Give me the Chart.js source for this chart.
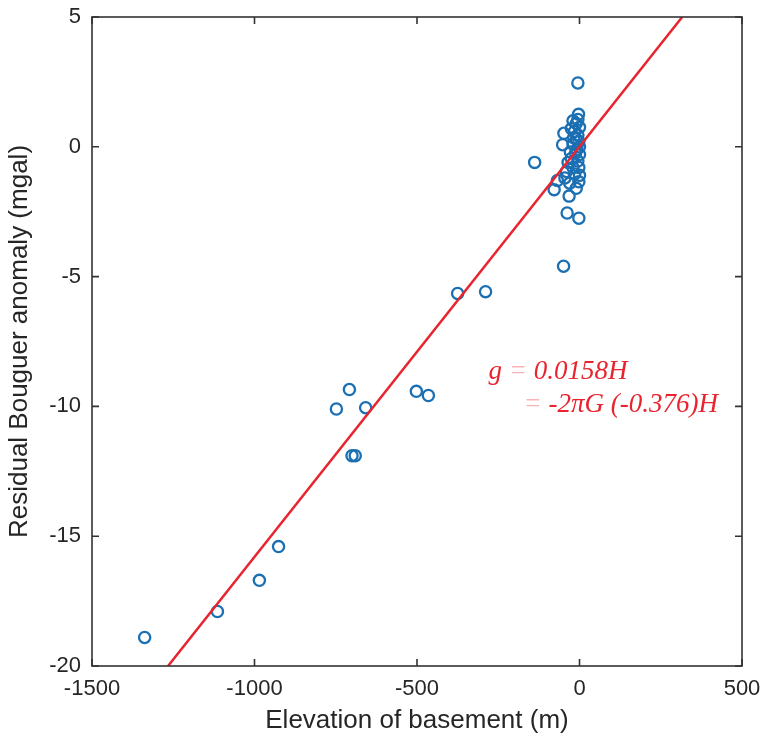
<!DOCTYPE html>
<html>
<head>
<meta charset="utf-8">
<script src="https://cdn.jsdelivr.net/npm/chart.js@4.4.1/dist/chart.umd.min.js"></script>
<style>
  html, body { margin: 0; padding: 0; background: #fff; }
  #wrap { width: 765px; height: 744px; }
</style>
</head>
<body>
<div id="wrap"><canvas id="chart" width="765" height="744"></canvas></div>
<script>
// Residual Bouguer anomaly vs basement elevation (scatter + fitted line)

const X_TICKS = [-1500, -1000, -500, 0, 500];
const Y_TICKS = [-20, -15, -10, -5, 0, 5];

// observed points: elevation (m), anomaly (mgal)
const elevation = [
    -1338, -1114, -985, -926,
    -748, -708, -658, -700, -690,
    -502, -465, -375, -289,
    -138, -49,
    -5, -3, -20, -10, 0, -15, -48, -5, -2, -52, -20, -8, 0,
    -25, -5, -35, -2, -40, -15, -68, -2, -30, -78, -32, -38, -2,
    -10, -25, 0, -12, -28, 0, -20, -45, -10, -5, -18
];
const anomaly = [
    -18.9, -17.9, -16.7, -15.4,
    -10.1, -9.35, -10.05, -11.9, -11.9,
    -9.42, -9.58, -5.65, -5.58,
    -0.6, -4.6,
    2.46, 1.25, 1.0, 0.9, 0.75, 0.6, 0.52, 0.45, 0.2, 0.08, 0.1, -0.1, -0.3,
    -0.45, -0.55, -0.6, -0.8, -0.95, -1.05, -1.3, -1.35, -1.4, -1.65, -1.9, -2.55, -2.75,
    0.3, 0.7, 0.0, -0.25, -0.2, -1.1, -0.8, -1.2, -1.6, 1.05, 0.35
];

// fitted line g = 0.0158H, ends where it meets the frame
const fitX = [-1266, 316];
const fitY = [-20, 5];

const RED = '#e8242f';
const BLUE = '#1b6fb3';
const AXIS = '#333333';
const TEXT = '#262626';

const points = elevation.map((x, i) => ({ x, y: anomaly[i] }));
const fitLine = fitX.map((x, i) => ({ x, y: fitY[i] }));

// MATLAB-like box with inward ticks + equation text
const framePlugin = {
    id: 'frame',
    afterDatasetsDraw(chart) {
        const { ctx, chartArea: a, scales } = chart;
        const len = 7;
        ctx.save();
        ctx.strokeStyle = AXIS;
        ctx.lineWidth = 1.6;
        ctx.strokeRect(a.left, a.top, a.right - a.left, a.bottom - a.top);
        ctx.beginPath();
        X_TICKS.forEach(v => {
            const px = scales.x.getPixelForValue(v);
            ctx.moveTo(px, a.bottom); ctx.lineTo(px, a.bottom - len);
            ctx.moveTo(px, a.top); ctx.lineTo(px, a.top + len);
        });
        Y_TICKS.forEach(v => {
            const py = scales.y.getPixelForValue(v);
            ctx.moveTo(a.left, py); ctx.lineTo(a.left + len, py);
            ctx.moveTo(a.right, py); ctx.lineTo(a.right - len, py);
        });
        ctx.stroke();

        // equation
        ctx.font = 'italic 27px "Liberation Serif", "DejaVu Serif", serif';
        ctx.textBaseline = 'alphabetic';
        const pieces = (x, y, parts) => {
            let cx = x;
            parts.forEach(([t, col]) => {
                ctx.fillStyle = col;
                ctx.fillText(t, cx, y);
                cx += ctx.measureText(t).width;
            });
        };
        const faint = 'rgba(232,36,47,0.35)';
        pieces(scales.x.getPixelForValue(-280), scales.y.getPixelForValue(-8.95),
            [['g', RED], [' = ', faint], ['0.0158H', RED]]);
        pieces(scales.x.getPixelForValue(-172), scales.y.getPixelForValue(-10.2),
            [['= ', faint], ['-2\u03c0G (-0.376)H', RED]]);
        ctx.restore();
    }
};

const plainTick = v => String(v);

new Chart(document.getElementById('chart').getContext('2d'), {
    type: 'scatter',
    data: {
        datasets: [
            {
                type: 'line',
                label: 'fit',
                data: fitLine,
                borderColor: RED,
                borderWidth: 2.5,
                pointRadius: 0,
                fill: false,
                tension: 0,
            },
            {
                label: 'observed',
                data: points,
                pointStyle: 'circle',
                pointRadius: 5.6,
                borderWidth: 2.3,
                borderColor: BLUE,
                backgroundColor: 'rgba(0,0,0,0)',
            },
        ],
    },
    options: {
        responsive: false,
        animation: false,
        layout: { padding: { top: 17, right: 23, left: 0, bottom: 0 } },
        plugins: {
            legend: { display: false },
            tooltip: { enabled: false },
        },
        scales: {
            x: {
                type: 'linear',
                min: -1500,
                max: 500,
                afterBuildTicks: s => { s.ticks = X_TICKS.map(v => ({ value: v })); },
                afterFit: s => { s.height = 78; s.paddingLeft = 0; s.paddingRight = 0; },
                grid: { display: false, drawTicks: false },
                border: { display: false },
                ticks: {
                    padding: 10,
                    color: TEXT,
                    callback: plainTick,
                    font: { family: '"Liberation Sans", Arial, sans-serif', size: 22 },
                },
                title: {
                    display: true,
                    text: 'Elevation of basement (m)',
                    color: TEXT,
                    font: { family: '"Liberation Sans", Arial, sans-serif', size: 26 },
                    padding: { top: 0, bottom: 8 },
                },
            },
            y: {
                type: 'linear',
                min: -20,
                max: 5,
                afterBuildTicks: s => { s.ticks = Y_TICKS.map(v => ({ value: v })); },
                afterFit: s => { s.width = 92; s.paddingTop = 0; s.paddingBottom = 0; },
                grid: { display: false, drawTicks: false },
                border: { display: false },
                ticks: {
                    padding: 11,
                    color: TEXT,
                    callback: plainTick,
                    font: { family: '"Liberation Sans", Arial, sans-serif', size: 22 },
                },
                title: {
                    display: true,
                    text: 'Residual Bouguer anomaly (mgal)',
                    color: TEXT,
                    font: { family: '"Liberation Sans", Arial, sans-serif', size: 26 },
                    padding: { top: 4, bottom: 0 },
                },
            },
        },
    },
    plugins: [framePlugin],
});
</script>
</body>
</html>
